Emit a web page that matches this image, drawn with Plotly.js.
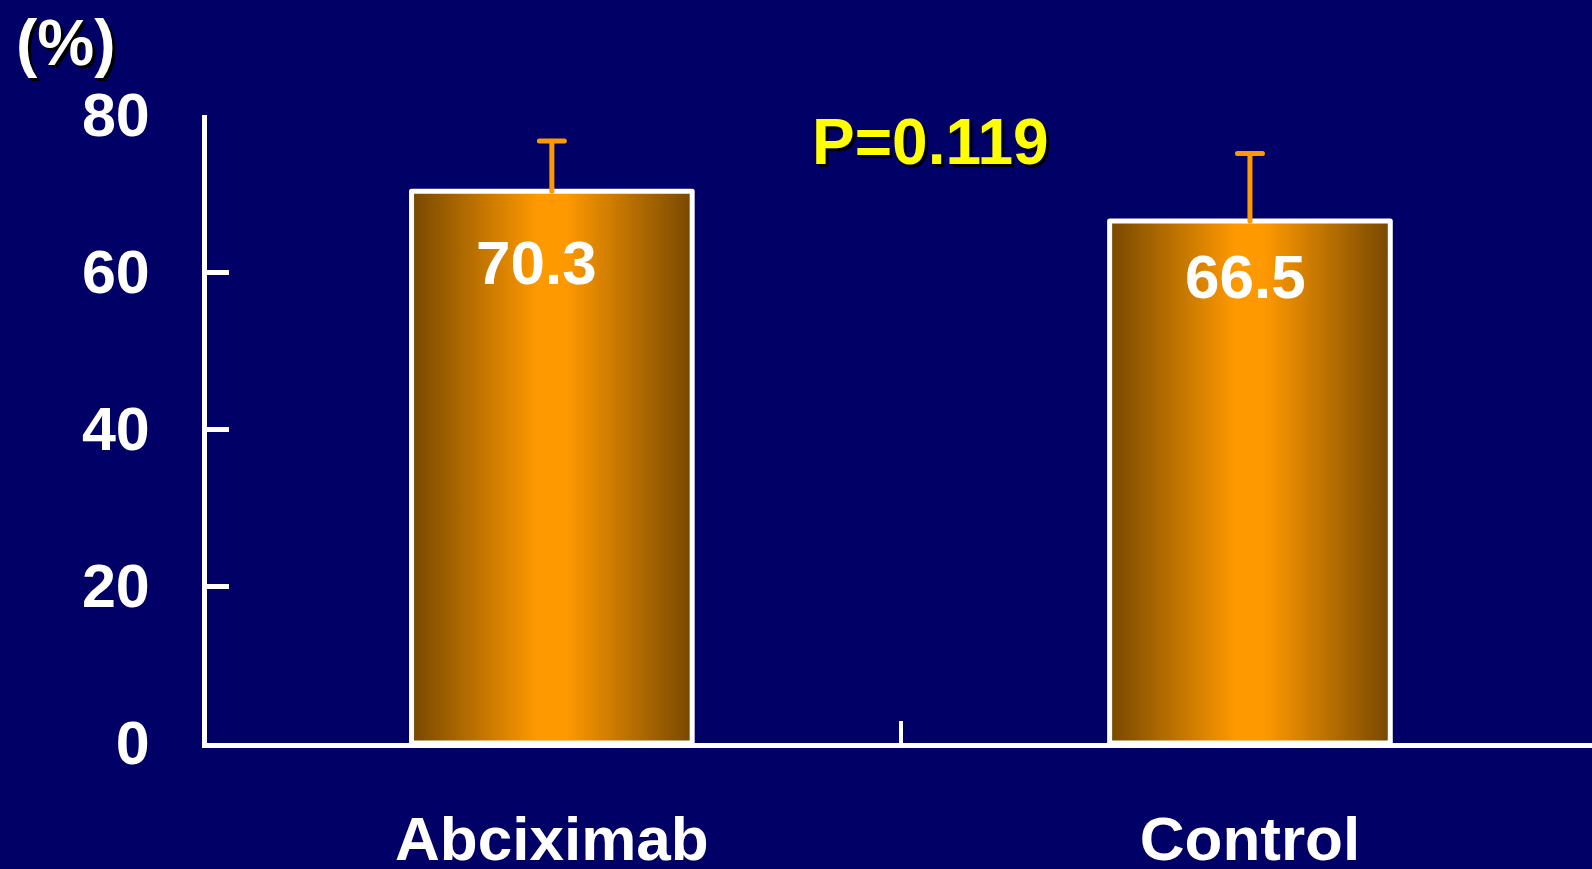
<!DOCTYPE html>
<html>
<head>
<meta charset="utf-8">
<script src="https://cdn.plot.ly/plotly-3.0.1.min.js"></script>
<style>
  html, body { margin: 0; padding: 0; background: #000066; overflow: hidden; }
  #chart { width: 1600px; height: 869px; }
</style>
</head>
<body>
<div id="chart"></div>
<script>
// Chart data
const categories = ['Abciximab', 'Control'];
const values = [70.3, 66.5];
const errorsUp = [6.4, 8.6];
const yTickVals = [0, 20, 40, 60, 80];
const yTickText = ['0', '20', '40', '60', '80'];
const pValueText = 'P=0.119';
const unitLabel = '(%)';

// Styling
const FONT = 'Liberation Sans, Arial, Helvetica, sans-serif';
const NAVY = '#000066';
const ORANGE = '#ff9900';
const labelShiftY = [-71, -56];   // value label offset below bar top (px)
const labelShiftX = [-15, -4];

const barTrace = {
  type: 'bar',
  x: categories,
  y: values,
  marker: { color: ORANGE, line: { color: '#ffffff', width: 5 } },
  error_y: {
    type: 'data', symmetric: false,
    array: errorsUp, arrayminus: values.map(() => 0),
    color: ORANGE, thickness: 5, width: 12.5
  },
  hoverinfo: 'skip'
};

const annotations = values.map((v, i) => ({
  xref: 'x', yref: 'y', x: categories[i], y: v,
  text: v.toFixed(1), showarrow: false,
  yanchor: 'middle', xanchor: 'center',
  yshift: labelShiftY[i], xshift: labelShiftX[i],
  font: { family: FONT, size: 62, color: '#ffffff', weight: 'bold' }
}));

annotations.push({
  xref: 'x', yref: 'y', x: 0.543, y: 76.5,
  text: pValueText, showarrow: false,
  xanchor: 'center', yanchor: 'middle',
  font: { family: FONT, size: 64, color: '#ffff00', weight: 'bold', shadow: '3px 3px 0px #000000' }
});

annotations.push({
  xref: 'paper', yref: 'paper', x: 0, y: 1,
  xanchor: 'left', yanchor: 'middle', xshift: -193, yshift: 72,
  text: unitLabel, showarrow: false,
  font: { family: FONT, size: 64, color: '#ffffff', weight: 'bold', shadow: '3px 3px 0px #000000' }
});

const layout = {
  width: 1600, height: 869,
  margin: { l: 207, r: 1, t: 115, b: 126 },
  paper_bgcolor: NAVY, plot_bgcolor: NAVY,
  showlegend: false,
  bargap: 0.598,
  xaxis: {
    type: 'category', range: [-0.494, 1.5],
    showline: true, linecolor: '#ffffff', linewidth: 5,
    ticks: 'inside', tickson: 'boundaries', ticklen: 22, tickwidth: 4, tickcolor: '#ffffff',
    showgrid: false, zeroline: false,
    ticklabelstandoff: 38,
    tickfont: { family: FONT, size: 62, color: '#ffffff', weight: 'bold' }
  },
  yaxis: {
    range: [0, 80], tickvals: yTickVals, ticktext: yTickText,
    showline: true, linecolor: '#ffffff', linewidth: 5,
    ticks: 'inside', ticklen: 22, tickwidth: 5, tickcolor: '#ffffff',
    showgrid: false, zeroline: false,
    ticklabelstandoff: 40,
    tickfont: { family: FONT, size: 61, color: '#ffffff', weight: 'bold' }
  },
  annotations: annotations
};

Plotly.newPlot('chart', [barTrace], layout, { staticPlot: true }).then(gd => {
  // Horizontal dark-bright-dark shading across each bar
  const svg = gd.querySelector('svg.main-svg');
  const ns = 'http://www.w3.org/2000/svg';
  let defs = svg.querySelector('defs');
  if (!defs) { defs = document.createElementNS(ns, 'defs'); svg.insertBefore(defs, svg.firstChild); }
  const grad = document.createElementNS(ns, 'linearGradient');
  grad.setAttribute('id', 'barShade');
  grad.setAttribute('x1', '0'); grad.setAttribute('x2', '1');
  grad.setAttribute('y1', '0'); grad.setAttribute('y2', '0');
  [['0', '#774800'], ['0.45', '#ff9900'], ['0.55', '#ff9900'], ['1', '#774800']].forEach(([o, c]) => {
    const s = document.createElementNS(ns, 'stop');
    s.setAttribute('offset', o); s.setAttribute('stop-color', c);
    grad.appendChild(s);
  });
  defs.appendChild(grad);
  gd.querySelectorAll('.trace.bars .point path').forEach(p => {
    p.style.fill = 'url(#barShade)';
    p.style.strokeLinejoin = 'round';
  });
  // Upper whiskers only: drop the lower cross-bar
  gd.querySelectorAll('.errorbar path.yerror').forEach(p => {
    const d = p.getAttribute('d');
    p.setAttribute('d', d.replace(/m-[\d.]+,0h[\d.]+$/, ''));
    p.style.strokeLinecap = 'round';
  });
});
</script>
</body>
</html>
